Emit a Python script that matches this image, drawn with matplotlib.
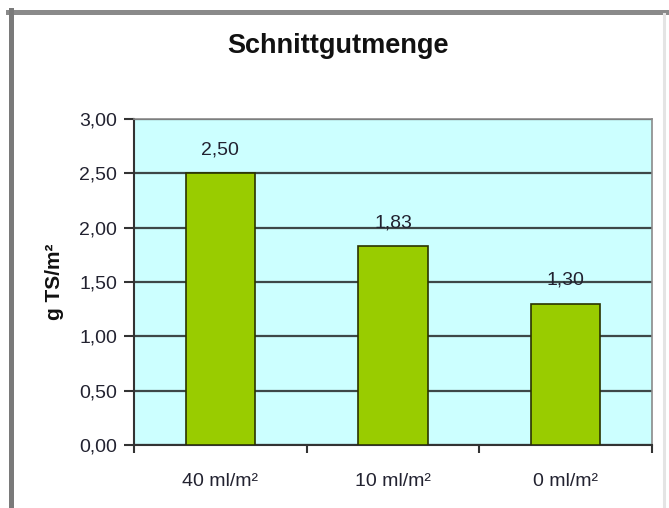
import matplotlib
matplotlib.use("Agg")
import matplotlib.pyplot as plt
import matplotlib.transforms as mtransforms
from matplotlib.lines import Line2D
from matplotlib.ticker import FixedLocator

# Data
categories = ["40 ml/m²", "10 ml/m²", "0 ml/m²"]
values = [2.50, 1.83, 1.30]
yticks = [0.0, 0.5, 1.0, 1.5, 2.0, 2.5, 3.0]

W, H = 669, 508
DPI = 100
plt.rcParams["font.family"] = ["Liberation Sans", "DejaVu Sans"]

fig = plt.figure(figsize=(W / DPI, H / DPI), dpi=DPI)
fig.patch.set_facecolor("white")

def fx(px):
    return px / W

def fy(py):
    return 1 - py / H

# Chart frame (top/left dark edge, light right edge)
fig.add_artist(Line2D([fx(8), fx(669)], [fy(11.5), fy(11.5)], color="#8a8a8a", lw=3.6, transform=fig.transFigure))
fig.add_artist(Line2D([fx(10.5), fx(10.5)], [fy(10), fy(508)], color="#7a7a7a", lw=3.6, transform=fig.transFigure))
fig.add_artist(Line2D([fx(663.5), fx(663.5)], [fy(14), fy(508)], color="#e4e4e4", lw=2.2, transform=fig.transFigure))

ax = fig.add_axes([fx(134), fy(445), fx(652) - fx(134), fy(119) - fy(445)])
ax.set_facecolor("#ccffff")

x = list(range(len(categories)))
ax.bar(x, values, width=0.4, color="#99cc00", edgecolor="#2a3300", linewidth=1.2, zorder=3)

ax.set_xlim(-0.5, len(categories) - 0.5)
ax.set_ylim(0, 3.0)

text_color = "#222230"
ax.yaxis.set_major_locator(FixedLocator(yticks))
ax.set_yticklabels([f"{t:.2f}".replace(".", ",") for t in yticks], fontsize=14, color=text_color)
ax.set_xticks(x)
ax.set_xticklabels(categories, fontsize=14, color=text_color)
ax.xaxis.set_minor_locator(FixedLocator([-0.5, 0.5, 1.5, 2.5]))
ax.tick_params(axis="x", which="major", length=0, pad=20)
ax.tick_params(axis="x", which="minor", length=6, width=1.5, color="#333333", direction="out")
ax.tick_params(axis="y", length=7, width=1.5, color="#333333", direction="out", pad=5)

ax.yaxis.grid(True, color="#3d4848", linewidth=1.6, zorder=1)
ax.set_axisbelow(True)

for side in ["top", "right"]:
    ax.spines[side].set_color("#8a8a8a")
    ax.spines[side].set_linewidth(1.2)
for side in ["left", "bottom"]:
    ax.spines[side].set_color("#333333")
    ax.spines[side].set_linewidth(1.5)

for xi, v in zip(x, values):
    ax.annotate(f"{v:.2f}".replace(".", ","), (xi, v), xytext=(0, 17), textcoords="offset points",
                ha="center", va="center", fontsize=14, color=text_color, zorder=4)

ax.set_ylabel("g TS/m²", fontsize=15, fontweight="bold", color="#111111", va="center")
ax.yaxis.set_label_coords(fx(54), 0.5,
                          transform=mtransforms.blended_transform_factory(fig.transFigure, ax.transAxes))

fig.text(fx(338), fy(46), "Schnittgutmenge", ha="center", va="center", fontsize=19.5, fontweight="bold", color="#111111")

fig.savefig("out.png", dpi=DPI)
